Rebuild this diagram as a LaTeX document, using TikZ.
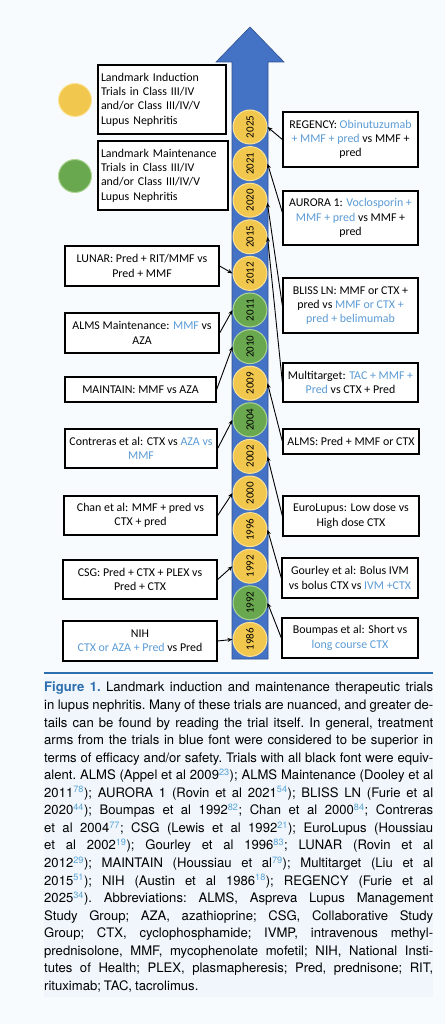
\documentclass[tikz,border=0pt]{standalone}
\usepackage{fontspec}
\setmainfont{Carlito}
\newfontfamily\capfont{TeX Gyre Heros}
\usetikzlibrary{arrows.meta,calc}
\definecolor{arrowblue}{RGB}{68,114,196}
\definecolor{arrowedge}{RGB}{47,82,143}
\definecolor{yel}{RGB}{242,199,78}
\definecolor{yeledge}{RGB}{250,226,150}
\definecolor{grn}{RGB}{106,168,79}
\definecolor{grnedge}{RGB}{175,213,150}
\definecolor{txtblue}{RGB}{91,155,213}
\definecolor{figblue}{RGB}{45,110,175}
\definecolor{refblue}{RGB}{90,165,215}
\definecolor{bgc}{RGB}{248,251,253}
\definecolor{capbg}{RGB}{240,246,251}
\newcommand{\bluetxt}[1]{\textcolor{txtblue}{#1}}
\newcommand{\refsup}[1]{\textsuperscript{\textcolor{refblue}{#1}}}
\newcommand{\capline}[1]{\makebox[389pt][s]{#1}\\}
\newcommand{\capspacing}{\frenchspacing\spaceskip=0.23em plus 1em minus 0.06em\relax}
\begin{document}
\begin{tikzpicture}[x=1pt,y=-1pt,
  box/.style={draw=black, line width=1.3pt, fill=white, align=center,
    font=\fontsize{11.9}{14.3}\selectfont, inner sep=2pt},
  legbox/.style={box, align=left, inner xsep=3pt},
  yr/.style={circle, minimum size=34pt, inner sep=0pt, line width=1pt,
    font=\fontsize{11}{11}\selectfont},
  yc/.style={yr, fill=yel, draw=yeledge},
  gc/.style={yr, fill=grn, draw=grnedge},
  conn/.style={-{Stealth[length=5pt,width=4pt]}, line width=0.9pt}]
\useasboundingbox (0,0) rectangle (445,1024);
\fill[bgc] (0,0) rectangle (445,1024);
% timeline arrow
\filldraw[fill=arrowblue, draw=arrowedge, line width=0.6pt]
  (232,659) -- (232,62) -- (216,62) -- (250,27) -- (284,62) -- (268,62) -- (268,659) -- cycle;
% legend
\node[circle, fill=yel, draw=yeledge, line width=1pt, minimum size=33pt, inner sep=0pt] (legy) at (75,100) {};
\node[circle, fill=grn, draw=grnedge, line width=1pt, minimum size=33pt, inner sep=0pt] (legg) at (75,176) {};
\node[legbox, text width=122pt, minimum height=69pt] (leg1) at (162,99.5)
  {Landmark Induction\\Trials in Class III/IV\\and/or Class III/IV/V\\Lupus Nephritis};
\node[legbox, text width=124pt, minimum height=69pt] (leg2) at (163,175.5)
  {Landmark Maintenance\\Trials in Class III/IV\\and/or Class III/IV/V\\Lupus Nephritis};
% year circles
\node[yc] (c2025) at (250,127) {\rotatebox{90}{2025}};
\node[yc] (c2021) at (250,163.6) {\rotatebox{90}{2021}};
\node[yc] (c2020) at (250,200.2) {\rotatebox{90}{2020}};
\node[yc] (c2015) at (250,236.8) {\rotatebox{90}{2015}};
\node[yc] (c2012) at (250,273.4) {\rotatebox{90}{2012}};
\node[gc] (c2011) at (250,310) {\rotatebox{90}{2011}};
\node[gc] (c2010) at (250,346.6) {\rotatebox{90}{2010}};
\node[yc] (c2009) at (250,383.2) {\rotatebox{90}{2009}};
\node[gc] (c2004) at (250,419.8) {\rotatebox{90}{2004}};
\node[yc] (c2002) at (250,456.4) {\rotatebox{90}{2002}};
\node[yc] (c2000) at (250,493) {\rotatebox{90}{2000}};
\node[yc] (c1996) at (250,529.6) {\rotatebox{90}{1996}};
\node[yc] (c1992a) at (250,566.2) {\rotatebox{90}{1992}};
\node[gc] (c1992b) at (250,602.8) {\rotatebox{90}{1992}};
\node[yc] (c1986) at (250,639.4) {\rotatebox{90}{1986}};
% right boxes
\node[box, minimum width=135pt, minimum height=55pt] (reg) at (350.5,139.5)
  {REGENCY: \bluetxt{Obinutuzumab}\\\bluetxt{+ MMF + pred} vs MMF +\\pred};
\node[box, minimum width=135pt, minimum height=54pt] (aur) at (350.5,218)
  {AURORA 1: \bluetxt{Voclosporin +}\\\bluetxt{MMF + pred} vs MMF +\\pred};
\node[box, minimum width=135pt, minimum height=55pt] (bliss) at (350.5,305.5)
  {BLISS LN: MMF or CTX +\\pred vs \bluetxt{MMF or CTX +}\\\bluetxt{pred + belimumab}};
\node[box, minimum width=135pt, minimum height=39pt] (multi) at (350.5,382.5)
  {Multitarget: \bluetxt{TAC + MMF +}\\\bluetxt{Pred} vs CTX + Pred};
\node[box, minimum width=136pt, minimum height=25pt] (alms) at (351,441.5)
  {ALMS: Pred + MMF or CTX};
\node[box, minimum width=136pt, minimum height=40pt] (euro) at (351,516)
  {EuroLupus: Low dose vs\\High dose CTX};
\node[box, minimum width=136pt, minimum height=40pt] (gour) at (350,578)
  {Gourley et al: Bolus IVM\\vs bolus CTX vs \bluetxt{IVM +CTX}};
\node[box, minimum width=136pt, minimum height=40pt] (boump) at (350,638)
  {Boumpas et al: Short vs\\\bluetxt{long course CTX}};
% left boxes
\node[box, minimum width=154pt, minimum height=40pt] (lunar) at (142,266)
  {LUNAR: Pred + RIT/MMF vs\\Pred + MMF};
\node[box, minimum width=154pt, minimum height=40pt] (almsm) at (142,333)
  {ALMS Maintenance: \bluetxt{MMF} vs\\AZA};
\node[box, minimum width=151pt, minimum height=25pt] (maintain) at (140.5,389.5)
  {MAINTAIN: MMF vs AZA};
\node[box, minimum width=152pt, minimum height=39pt] (contreras) at (141,448.5)
  {Contreras et al: CTX vs \bluetxt{AZA vs}\\\bluetxt{MMF}};
\node[box, minimum width=153pt, minimum height=39pt] (chan) at (140.5,515.5)
  {Chan et al: MMF + pred vs\\CTX + pred};
\node[box, minimum width=154pt, minimum height=39pt] (csg) at (140,579.5)
  {CSG: Pred + CTX + PLEX vs\\Pred + CTX};
\node[box, minimum width=154pt, minimum height=40pt] (nih) at (140,641)
  {NIH\\\bluetxt{CTX or AZA + Pred} vs Pred};
% connectors right
\draw[conn] (reg.west) -- (c2025.east);
\draw[conn] ($(aur.north west)!0.4!(aur.south west)$) -- (c2021.east);
\draw[conn] (bliss.west) -- (c2020.-8);
\draw[conn] (multi.west) -- (c2015.east);
\draw[conn] (alms.west) -- (c2009.east);
\draw[conn] (euro.west) -- (c2002.east);
\draw[conn] (gour.west) -- (c1996.east);
\draw[conn] (boump.west) -- (c1992b.east);
% connectors left
\draw[conn] (lunar.east) -- (c2012.west);
\draw[conn] (almsm.east) -- (c2011.west);
\draw[conn] (maintain.east) -- (c2010.west);
\draw[conn] (contreras.east) -- (c2004.west);
\draw[conn] (chan.east) -- (c2000.west);
\draw[conn] (csg.east) -- (c1992a.west);
\draw[conn] (nih.east) -- (c1986.west);
% caption
\fill[capbg] (44,677) rectangle (433,997);
\draw[figblue, line width=1.2pt] (44,673) -- (433,673);
\node[anchor=north west, inner sep=0pt, text width=389pt, align=left,
  font=\capfont\fontsize{13.1}{17.55}\selectfont] (cap) at (44,682) {\capspacing
\capline{\textbf{\textcolor{figblue}{Figure 1.}} Landmark induction and maintenance therapeutic trials}
\capline{in lupus nephritis. Many of these trials are nuanced, and greater de-}
\capline{tails can be found by reading the trial itself. In general, treatment}
\capline{arms from the trials in blue font were considered to be superior in}
\capline{terms of efficacy and/or safety. Trials with all black font were equiv-}
\capline{alent. ALMS (Appel et al 2009\refsup{23}); ALMS Maintenance (Dooley et al}
\capline{2011\refsup{78}); AURORA 1 (Rovin et al 2021\refsup{54}); BLISS LN (Furie et al}
\capline{2020\refsup{44}); Boumpas et al 1992\refsup{82}; Chan et al 2000\refsup{84}; Contreras}
\capline{et al 2004\refsup{77}; CSG (Lewis et al 1992\refsup{21}); EuroLupus (Houssiau}
\capline{et al 2002\refsup{19}); Gourley et al 1996\refsup{83}; LUNAR (Rovin et al}
\capline{2012\refsup{29}); MAINTAIN (Houssiau et al\refsup{79}); Multitarget (Liu et al}
\capline{2015\refsup{51}); NIH (Austin et al 1986\refsup{18}); REGENCY (Furie et al}
\capline{2025\refsup{34}). Abbreviations: ALMS, Aspreva Lupus Management}
\capline{Study Group; AZA, azathioprine; CSG, Collaborative Study}
\capline{Group; CTX, cyclophosphamide; IVMP, intravenous methyl-}
\capline{prednisolone, MMF, mycophenolate mofetil; NIH, National Insti-}
\capline{tutes of Health; PLEX, plasmapheresis; Pred, prednisone; RIT,}
rituximab; TAC, tacrolimus.};
\end{tikzpicture}
\end{document}
